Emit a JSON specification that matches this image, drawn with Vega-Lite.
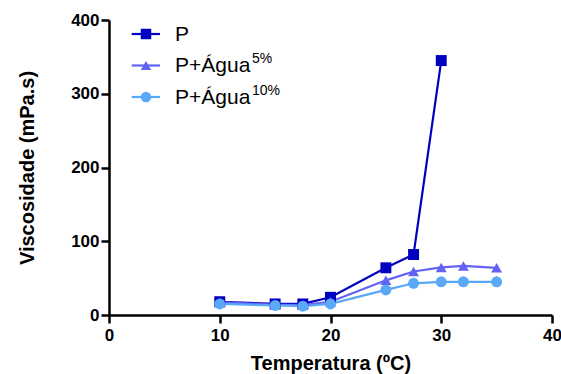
{
  "$schema": "https://vega.github.io/schema/vega-lite/v6.json",
  "width": 443,
  "height": 295,
  "autosize": {"type": "none"},
  "padding": {"left": 109, "top": 20, "right": 9, "bottom": 59},
  "background": "white",
  "config": {
    "view": {"stroke": null},
    "font": "Liberation Sans",
    "axis": {
      "domainColor": "black", "domainWidth": 2.5, "tickColor": "black", "tickWidth": 2.5, "tickSize": 8,
      "labelFont": "Liberation Sans", "labelFontSize": 17, "labelFontWeight": "bold", "labelColor": "black", "labelPadding": 2,
      "labelFlush": false, "labelOverlap": false,
      "titleFont": "Liberation Sans", "titleFontSize": 20, "titleFontWeight": "bold", "titleColor": "black", "grid": false
    }
  },
  "datasets": {
    "pts": [
      {"s": "P", "t": 10, "v": 18},
      {"s": "P", "t": 15, "v": 15},
      {"s": "P", "t": 17.5, "v": 15},
      {"s": "P", "t": 20, "v": 24},
      {"s": "P", "t": 25, "v": 64},
      {"s": "P", "t": 27.5, "v": 82},
      {"s": "P", "t": 30, "v": 345},
      {"s": "P+Água5%", "t": 10, "v": 17},
      {"s": "P+Água5%", "t": 15, "v": 14},
      {"s": "P+Água5%", "t": 17.5, "v": 13.5},
      {"s": "P+Água5%", "t": 20, "v": 18},
      {"s": "P+Água5%", "t": 25, "v": 47},
      {"s": "P+Água5%", "t": 27.5, "v": 59},
      {"s": "P+Água5%", "t": 30, "v": 64.5},
      {"s": "P+Água5%", "t": 32, "v": 66.5},
      {"s": "P+Água5%", "t": 35, "v": 64},
      {"s": "P+Água10%", "t": 10, "v": 15},
      {"s": "P+Água10%", "t": 15, "v": 13},
      {"s": "P+Água10%", "t": 17.5, "v": 12},
      {"s": "P+Água10%", "t": 20, "v": 15},
      {"s": "P+Água10%", "t": 25, "v": 34},
      {"s": "P+Água10%", "t": 27.5, "v": 43},
      {"s": "P+Água10%", "t": 30, "v": 45},
      {"s": "P+Água10%", "t": 32, "v": 45},
      {"s": "P+Água10%", "t": 35, "v": 45}
    ],
    "leg": [
      {"s": "P", "row": 0, "label": "P", "sup": ""},
      {"s": "P+Água5%", "row": 1, "label": "P+Água", "sup": "5%"},
      {"s": "P+Água10%", "row": 2, "label": "P+Água", "sup": "10%"}
    ]
  },
  "resolve": {"scale": {"y": "independent"}},
  "layer": [
    {
      "data": {"name": "pts"},
      "encoding": {
        "x": {"field": "t", "type": "quantitative", "scale": {"domain": [0, 40], "nice": false, "padding": 0},
              "axis": {"values": [0, 10, 20, 30, 40], "title": "Temperatura (ºC)", "titlePadding": 10, "labelPadding": 4}},
        "y": {"field": "v", "type": "quantitative", "scale": {"domain": [0, 400], "nice": false, "padding": 0},
              "axis": {"values": [0, 100, 200, 300, 400], "title": "Viscosidade (mPa.s)", "titlePadding": 33}},
        "color": {"field": "s", "type": "nominal", "legend": null,
                  "scale": {"domain": ["P", "P+Água5%", "P+Água10%"], "range": ["#0000C0", "#6262F5", "#5AA8F8"]}}
      },
      "layer": [
        {"mark": {"type": "line", "strokeWidth": 2.2}},
        {"mark": {"type": "point", "filled": true, "opacity": 1, "size": 120},
         "encoding": {"shape": {"field": "s", "type": "nominal", "legend": null,
                      "scale": {"domain": ["P", "P+Água5%", "P+Água10%"], "range": ["square", "triangle-up", "circle"]}}}}
      ]
    },
    {
      "data": {"name": "leg"},
      "encoding": {
        "y": {"field": "row", "type": "quantitative", "axis": null,
              "scale": {"domain": [8.921, -0.4444], "nice": false, "zero": false, "padding": 0}},
        "color": {"field": "s", "type": "nominal", "legend": null}
      },
      "layer": [
        {"mark": {"type": "rule", "strokeWidth": 2.2},
         "encoding": {"x": {"datum": 2.05, "type": "quantitative"}, "x2": {"datum": 4.6}}},
        {"mark": {"type": "point", "filled": true, "opacity": 1, "size": 110},
         "encoding": {"x": {"datum": 3.34, "type": "quantitative"},
                      "shape": {"field": "s", "type": "nominal", "legend": null}}},
        {"mark": {"type": "text", "align": "left", "baseline": "middle", "fontSize": 21, "color": "black", "dy": 1},
         "encoding": {"x": {"datum": 5.96, "type": "quantitative"}, "text": {"field": "label"}, "color": {"value": "black"}}},
        {"mark": {"type": "text", "align": "left", "baseline": "middle", "fontSize": 14, "color": "black", "dx": 77, "dy": -6},
         "encoding": {"x": {"datum": 5.96, "type": "quantitative"}, "text": {"field": "sup"}, "color": {"value": "black"}}}
      ]
    }
  ]
}
